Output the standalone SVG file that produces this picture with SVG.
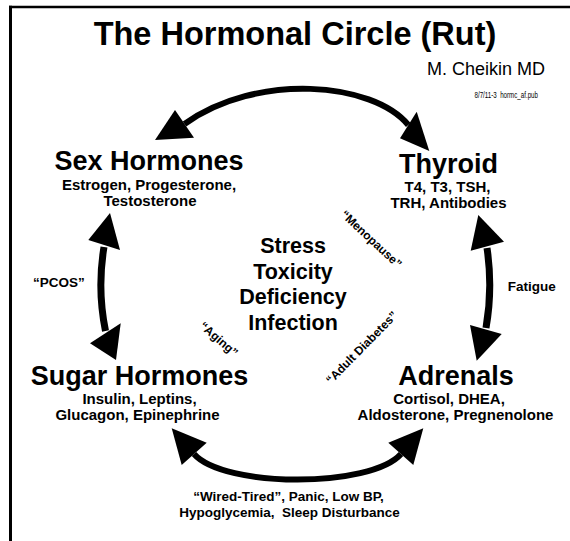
<svg xmlns="http://www.w3.org/2000/svg" width="570" height="541" viewBox="0 0 570 541">
<style>
text{font-family:"Liberation Sans",Arial,Helvetica,sans-serif;fill:#000}
.title{font-size:32.5px;font-weight:bold;text-anchor:middle}
.auth{font-size:18px}
.date{font-size:9px}
.nt{font-size:27px;font-weight:bold;text-anchor:middle}
.ns{font-size:15px;font-weight:bold;text-anchor:middle}
.ct{font-size:21.5px;font-weight:bold;text-anchor:middle}
.lb{font-size:13.5px;font-weight:bold;text-anchor:middle}
.rl{font-size:12px;font-weight:bold;text-anchor:middle}
.shaft{fill:none;stroke:#000;stroke-width:6}
.shaft2{fill:none;stroke:#000;stroke-width:7}
.head{fill:#000;stroke:none}
.frame{stroke:#000;fill:none}
</style>
<rect width="570" height="541" fill="#fff"/>
<g id="frame">
<line class="frame" x1="9" y1="7" x2="570" y2="7" stroke-width="2.5"/>
<line class="frame" x1="10.5" y1="5.75" x2="10.5" y2="541" stroke-width="3"/>
</g>
<g id="header">
<text class="title" x="295" y="44.5">The Hormonal Circle (Rut)</text>
<text class="auth" x="427" y="75">M. Cheikin MD</text>
<text class="date" x="474.5" y="97.5" textLength="63.5" lengthAdjust="spacingAndGlyphs" xml:space="preserve">8/7/11-3  hormc_af.pub</text>
</g>
<g id="connectors">
<g id="arrow-top">
<path class="shaft" d="M184.5,124 C257,72 373,82 408.3,125"/>
<polygon class="head" points="155,140 175,110 194,137.7"/>
<polygon class="head" points="429.3,151 416.7,111.7 400,138.3"/>
</g>
<g id="arrow-left">
<path class="shaft2" d="M104,247 Q97,289 105.5,331"/>
<polygon class="head" points="110,213 88.3,240 120,250"/>
<polygon class="head" points="116,360 90,343.3 120.7,323.3"/>
<text class="lb" x="59" y="287">“PCOS”</text>
</g>
<g id="arrow-right">
<path class="shaft2" d="M487,248 Q493,288 486,328"/>
<polygon class="head" points="478.3,215 470.7,250.7 504,241.7"/>
<polygon class="head" points="476.7,360.7 470,325 501.7,334"/>
<text class="lb" x="531.7" y="291">Fatigue</text>
</g>
<g id="arrow-bottom">
<path class="shaft" d="M194,454 C224,488 371,488 401,454"/>
<polygon class="head" points="171.7,428.3 206.7,442.7 181.7,465"/>
<polygon class="head" points="423.3,428.3 388.3,442.7 413.3,465"/>
<text class="lb" x="288.5" y="500.5">“Wired-Tired”, Panic, Low BP,</text>
<text class="lb" x="289.5" y="517" xml:space="preserve">Hypoglycemia,  Sleep Disturbance</text>
</g>
<g id="diagonal-labels">
<text class="rl" transform="translate(371.5,239) rotate(43)" y="4.3">“Menopause”</text>
<text class="rl" transform="translate(219,339) rotate(41)" y="4.3">“Aging”</text>
<text class="rl" transform="translate(361.5,347.5) rotate(-45.5)" y="4.3">“Adult Diabetes”</text>
</g>
</g>
<g id="node-sex">
<text class="nt" x="149" y="170">Sex Hormones</text>
<text class="ns" x="149" y="189.5">Estrogen, Progesterone,</text>
<text class="ns" x="150" y="205.5">Testosterone</text>
</g>
<g id="node-thyroid">
<text class="nt" x="448.5" y="172.5">Thyroid</text>
<text class="ns" x="447.5" y="192">T4, T3, TSH,</text>
<text class="ns" x="448.5" y="207.5">TRH, Antibodies</text>
</g>
<g id="node-sugar">
<text class="nt" x="139.5" y="384.5">Sugar Hormones</text>
<text class="ns" x="139.5" y="404">Insulin, Leptins,</text>
<text class="ns" x="137.5" y="419.5">Glucagon, Epinephrine</text>
</g>
<g id="node-adrenals">
<text class="nt" x="456" y="384.5">Adrenals</text>
<text class="ns" x="449" y="404">Cortisol, DHEA,</text>
<text class="ns" x="455.5" y="419.5">Aldosterone, Pregnenolone</text>
</g>
<g id="node-center">
<text class="ct" x="293" y="253">Stress</text>
<text class="ct" x="293" y="278.5">Toxicity</text>
<text class="ct" x="293" y="304">Deficiency</text>
<text class="ct" x="293" y="329.5">Infection</text>
</g>
</svg>
